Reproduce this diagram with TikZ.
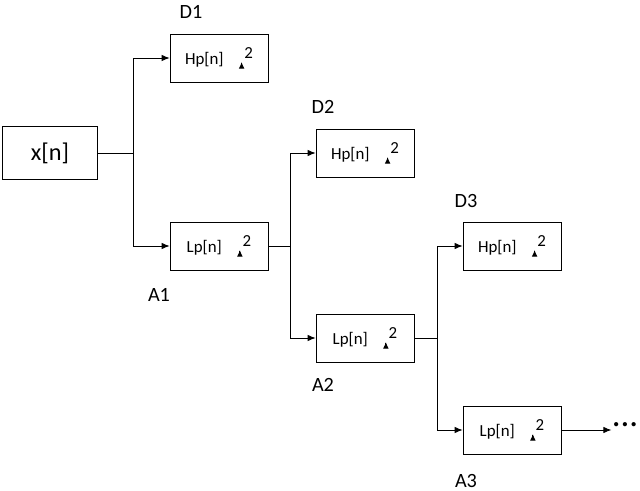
\documentclass[tikz,border=0pt]{standalone}
\usepackage{fontspec}
\setmainfont{Carlito}
\usetikzlibrary{arrows.meta,positioning}
\tikzset{
  filt/.style={draw, rectangle, minimum width=2.45cm, minimum height=1.2cm, font=\large, inner sep=0pt},
  lbl/.style={font=\Large},
  con/.style={-{Latex[length=2mm,width=1.6mm]}, line width=0.6pt}
}
\newcommand{\dn}{\raisebox{-0.25em}{\tikz\draw[-{Latex[length=1.6mm,width=1.4mm]},line width=0.6pt](0,0.42)--(0,0);}\raisebox{0.35em}{2}}
\begin{document}
\begin{tikzpicture}[x=0.025cm, y=-0.025cm]
        \useasboundingbox (0,0) rectangle (640,491);
        % input and filter boxes
        \node[draw, minimum width=2.375cm, minimum height=1.325cm, font=\LARGE] (x) at (50,153) {x[n]};
        \node[filt] (d1) at (219,58) {Hp[n]\hspace{0.9em}\dn};
        \node[filt] (a1) at (219,246) {Lp[n]\hspace{0.9em}\dn};
        \node[filt] (d2) at (365,153) {Hp[n]\hspace{0.9em}\dn};
        \node[filt] (a2) at (365,338) {Lp[n]\hspace{0.9em}\dn};
        \node[filt] (d3) at (512,246) {Hp[n]\hspace{0.9em}\dn};
        \node[filt] (a3) at (512,430) {Lp[n]\hspace{0.9em}\dn};
        
        % band labels
        \node[lbl] (ld1) at (191,12) {D1};
        \node[lbl] (la1) at (159,295) {A1};
        \node[lbl] (ld2) at (323,107) {D2};
        \node[lbl] (la2) at (323,385) {A2};
        \node[lbl] (ld3) at (466,201) {D3};
        \node[lbl] (la3) at (466,481) {A3};
        
        % branches
        \coordinate (b0) at (133,153);
        \coordinate (b1) at (290,246);
        \coordinate (b2) at (437,338);
        \draw[line width=0.6pt] (x.east) -- (b0);
        \draw[con] (b0) |- (d1.west);
        \draw[con] (b0) |- (a1.west);
        \draw[line width=0.6pt] (a1.east) -- (b1);
        \draw[con] (b1) |- (d2.west);
        \draw[con] (b1) |- (a2.west);
        \draw[line width=0.6pt] (a2.east) -- (b2);
        \draw[con] (b2) |- (d3.west);
        \draw[con] (b2) |- (a3.west);
        \node[font=\Huge, inner sep=0pt] (dots) at (625,425) {...};
        \draw[con] (a3.east) -- (dots.west |- a3.east);
\end{tikzpicture}
\end{document}
